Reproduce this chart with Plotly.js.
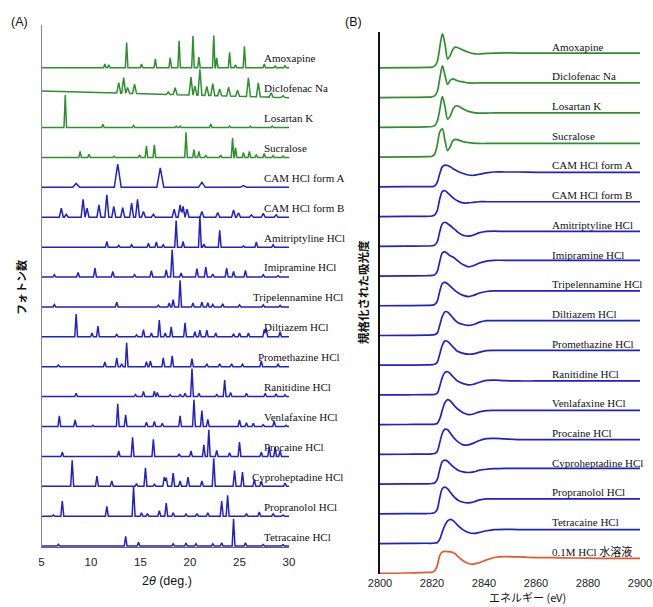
<!DOCTYPE html>
<html><head><meta charset="utf-8">
<script src="https://cdn.plot.ly/plotly-3.0.1.min.js"></script>
<style>html,body{margin:0;padding:0;background:#fff;}#chart{width:653px;height:607px;}</style>
</head><body><div id="chart"></div>
<script>
// ===== Panel A: XRD patterns, peaks as [2theta, relative height]
const xrdNames = ["Amoxapine","Diclofenac Na","Losartan K","Sucralose","CAM HCl form A","CAM HCl form B","Amitriptyline HCl","Imipramine HCl","Tripelennamine HCl","Diltiazem HCl","Promethazine HCl","Ranitidine HCl","Venlafaxine HCl","Procaine HCl","Cyproheptadine HCl","Propranolol HCl","Tetracaine HCl"];
const xrdTicks = [5,10,15,20,25,30];

const pkAmoxapine = [[11.4,0.13],[11.8,0.1],[13.6,0.84],[15.1,0.13],[16.5,0.3],[18.0,0.33],[18.9,0.9],[20.3,1.06],[20.9,0.36],[22.4,1.08],[22.7,0.33],[24.0,0.52],[24.6,0.1],[25.5,0.72],[27.5,0.13],[28.6,0.06],[29.6,0.08]];
const pkDiclofenac = [[12.8,0.35],[13.3,0.52],[13.7,0.2],[14.4,0.31],[17.8,0.08],[18.5,0.23],[20.1,0.6],[20.5,0.3],[21.0,0.87],[21.7,0.3],[22.3,0.4],[23.0,0.23],[23.9,0.3],[24.8,0.2],[25.9,0.63],[26.9,0.47],[28.2,0.15],[29.4,0.06]];
const pkLosartan = [[7.4,1.09],[11.2,0.11],[14.3,0.07],[18.6,0.05],[19.0,0.05],[22.1,0.12],[24.0,0.05],[26.1,0.04],[28.3,0.05]];
const pkSucralose = [[8.9,0.2],[9.8,0.11],[12.3,0.04],[14.9,0.09],[15.6,0.39],[16.4,0.42],[19.6,0.84],[20.4,0.26],[20.9,0.2],[21.6,0.06],[23.1,0.08],[24.3,0.65],[24.6,0.33],[25.4,0.17],[26.0,0.2],[26.7,0.1],[27.5,0.13],[28.4,0.06],[29.4,0.05]];
const pkCamA = [[8.5,0.13],[12.7,0.78],[17.0,0.65],[21.2,0.17],[25.4,0.06]];
const pkCamB = [[7.0,0.3],[7.5,0.1],[9.2,0.6],[9.6,0.3],[10.8,0.41],[11.6,0.75],[12.3,0.36],[13.2,0.32],[14.1,0.47],[14.7,0.6],[15.3,0.19],[16.3,0.1],[18.4,0.27],[19.0,0.41],[19.3,0.36],[19.7,0.27],[21.2,0.19],[22.8,0.16],[24.4,0.24],[24.9,0.15],[26.2,0.08],[27.4,0.13],[28.7,0.08]];
const pkAmitriptyline = [[11.6,0.19],[12.8,0.06],[14.1,0.08],[15.8,0.13],[16.6,0.17],[17.3,0.08],[18.6,0.89],[19.3,0.19],[21.0,1.04],[21.4,0.1],[23.0,0.56],[25.4,0.04],[26.7,0.17],[28.4,0.08]];
const pkImipramine = [[6.3,0.08],[8.7,0.15],[10.4,0.3],[12.2,0.19],[14.4,0.08],[16.1,0.21],[17.6,0.24],[18.2,0.91],[19.1,0.13],[20.7,0.28],[21.6,0.33],[22.3,0.1],[23.7,0.3],[24.4,0.19],[25.6,0.22],[27.4,0.08],[28.9,0.05]];
const pkTripelennamine = [[6.3,0.08],[12.6,0.16],[16.8,0.06],[17.9,0.13],[18.3,0.24],[19.0,0.89],[20.3,0.13],[21.2,0.16],[21.8,0.14],[22.3,0.08],[23.3,0.1],[25.0,0.07],[27.4,0.07],[29.1,0.05]];
const pkDiltiazem = [[8.5,0.76],[10.1,0.13],[10.7,0.36],[12.6,0.09],[14.6,0.06],[15.3,0.24],[16.1,0.13],[16.9,0.56],[17.5,0.13],[18.1,0.33],[19.5,0.47],[20.5,0.17],[21.0,0.22],[21.7,0.22],[22.6,0.13],[24.4,0.1],[25.0,0.13],[25.9,0.13],[27.5,0.25],[27.7,0.28],[29.1,0.17]];
const pkPromethazine = [[6.7,0.06],[11.4,0.16],[12.6,0.3],[13.1,0.1],[13.6,0.8],[15.6,0.17],[16.0,0.19],[17.3,0.3],[18.2,0.36],[20.2,0.27],[21.7,0.1],[23.0,0.1],[24.2,0.1],[25.3,0.08],[27.2,0.19],[28.9,0.08]];
const pkRanitidine = [[8.5,0.11],[14.5,0.07],[15.3,0.17],[16.4,0.18],[16.7,0.14],[18.0,0.06],[19.0,0.07],[19.5,0.11],[20.2,0.94],[20.9,0.11],[22.7,0.07],[23.5,0.55],[24.1,0.14],[25.7,0.11],[27.6,0.11],[28.7,0.09],[29.6,0.06]];
const pkVenlafaxine = [[6.8,0.36],[8.4,0.22],[10.2,0.04],[12.7,0.76],[13.5,0.39],[15.6,0.14],[16.4,0.17],[17.2,0.11],[19.0,0.36],[20.4,0.89],[21.2,0.53],[21.8,0.24],[25.0,0.22],[25.7,0.13],[26.4,0.11],[27.4,0.06],[28.5,0.19],[29.7,0.04]];
const pkProcaine = [[7.1,0.14],[12.8,0.18],[14.2,0.64],[16.3,0.57],[18.9,0.09],[20.1,0.18],[21.4,0.39],[21.9,0.89],[22.7,0.2],[24.0,0.12],[25.0,0.48],[27.2,0.14],[28.0,0.31],[28.6,0.31],[29.1,0.2]];
const pkCyproheptadine = [[8.1,0.87],[10.6,0.34],[12.1,0.18],[14.6,0.09],[15.5,0.62],[16.4,0.07],[17.4,0.31],[17.6,0.29],[18.3,0.44],[19.0,0.18],[19.8,0.31],[21.2,0.18],[22.4,0.94],[24.5,0.53],[25.3,0.48],[26.5,0.23],[27.2,0.17],[29.6,0.11]];
const pkPropranolol = [[6.2,0.04],[7.1,0.51],[11.6,0.33],[14.3,0.98],[15.1,0.11],[15.7,0.09],[16.9,0.18],[17.6,0.44],[18.3,0.11],[19.6,0.07],[20.7,0.09],[21.8,0.11],[23.2,0.51],[23.8,0.7],[25.7,0.09],[27.0,0.14],[28.4,0.09],[29.4,0.04]];
const pkTetracaine = [[6.7,0.06],[13.5,0.33],[14.8,0.13],[18.3,0.08],[19.6,0.1],[20.6,0.08],[22.3,0.08],[23.2,0.11],[24.4,0.91],[25.6,0.11],[27.4,0.05],[29.4,0.05]];
// baseline level at 2θ=5 and 2θ=30 (Diclofenac drifts down)
const xrdBaseStart = [0,0.22,0,0,0,0,0,0,0,0,0,0,0,0,0,0,0];
const xrdBaseEnd   = [0,0,0,0,0,0,0,0,0,0,0,0,0,0,0,0,0];

// ===== Panel B: Cl K-edge XANES
const xanesNames = ["Amoxapine","Diclofenac Na","Losartan K","Sucralose","CAM HCl form A","CAM HCl form B","Amitriptyline HCl","Imipramine HCl","Tripelennamine HCl","Diltiazem HCl","Promethazine HCl","Ranitidine HCl","Venlafaxine HCl","Procaine HCl","Cyproheptadine HCl","Propranolol HCl","Tetracaine HCl","0.1M HCl 水溶液"];
const energyEV = [2800,2810,2818,2820,2821,2822,2823,2824,2825,2826,2827,2828,2829,2830,2832,2834,2836,2838,2841,2844,2848,2853,2860,2870,2880,2890,2900];
const energyTicks = [2800,2820,2840,2860,2880,2900];
const muAmoxapine = [0,0.01,0.02,0.03,0.06,0.2,0.7,1.15,0.8,0.3,0.42,0.62,0.7,0.68,0.6,0.53,0.48,0.47,0.49,0.5,0.51,0.5,0.5,0.5,0.5,0.5,0.5];
const muDiclofenac = [0,0.01,0.02,0.03,0.06,0.2,0.65,1.07,0.75,0.45,0.58,0.63,0.6,0.56,0.53,0.5,0.49,0.5,0.5,0.5,0.5,0.5,0.5,0.5,0.5,0.5,0.5];
const muLosartan = [0,0.01,0.02,0.03,0.06,0.2,0.6,1.04,0.7,0.28,0.38,0.6,0.72,0.72,0.62,0.54,0.5,0.48,0.48,0.49,0.49,0.49,0.49,0.49,0.49,0.49,0.49];
const muSucralose = [0,0.01,0.02,0.03,0.1,0.4,0.85,0.95,0.55,0.22,0.35,0.55,0.6,0.58,0.52,0.49,0.47,0.46,0.46,0.46,0.46,0.46,0.46,0.46,0.46,0.46,0.46];
const muCamA = [0,0.005,0.01,0.01,0.03,0.15,0.45,0.68,0.73,0.72,0.68,0.62,0.57,0.52,0.45,0.4,0.39,0.42,0.47,0.5,0.5,0.5,0.49,0.49,0.49,0.49,0.49];
const muCamB = [0,0.005,0.01,0.02,0.05,0.2,0.6,0.85,0.87,0.8,0.72,0.64,0.57,0.52,0.46,0.46,0.48,0.5,0.5,0.5,0.5,0.5,0.5,0.5,0.5,0.5,0.5];
const muAmitriptyline = [0,0.005,0.01,0.02,0.04,0.15,0.5,0.76,0.81,0.76,0.7,0.62,0.55,0.47,0.37,0.34,0.38,0.45,0.5,0.51,0.5,0.5,0.5,0.5,0.5,0.5,0.5];
const muImipramine = [0,0.005,0.01,0.02,0.04,0.15,0.5,0.78,0.81,0.75,0.68,0.64,0.58,0.5,0.38,0.31,0.35,0.43,0.5,0.53,0.53,0.53,0.53,0.53,0.53,0.53,0.53];
const muTripelennamine = [0,0.005,0.01,0.02,0.04,0.15,0.5,0.75,0.79,0.74,0.66,0.58,0.5,0.44,0.35,0.31,0.35,0.42,0.48,0.5,0.5,0.5,0.5,0.5,0.5,0.5,0.5];
const muDiltiazem = [0,0.005,0.01,0.02,0.03,0.08,0.35,0.65,0.8,0.79,0.7,0.6,0.5,0.43,0.37,0.34,0.37,0.44,0.5,0.5,0.5,0.5,0.5,0.5,0.5,0.5,0.5];
const muPromethazine = [0,0.005,0.01,0.02,0.03,0.1,0.38,0.68,0.82,0.8,0.72,0.62,0.53,0.46,0.4,0.37,0.38,0.43,0.49,0.5,0.5,0.5,0.5,0.5,0.5,0.5,0.5];
const muRanitidine = [0,0.005,0.01,0.01,0.02,0.05,0.3,0.6,0.76,0.78,0.72,0.62,0.53,0.46,0.38,0.34,0.36,0.42,0.49,0.5,0.48,0.47,0.47,0.47,0.47,0.47,0.47];
const muVenlafaxine = [0,0.005,0.01,0.01,0.02,0.04,0.2,0.5,0.75,0.84,0.8,0.7,0.6,0.52,0.4,0.34,0.36,0.42,0.47,0.48,0.48,0.48,0.48,0.48,0.48,0.48,0.48];
const muProcaine = [0,0.005,0.01,0.02,0.03,0.1,0.4,0.72,0.85,0.83,0.72,0.6,0.5,0.42,0.32,0.32,0.38,0.46,0.53,0.54,0.52,0.5,0.5,0.5,0.5,0.5,0.5];
const muCyproheptadine = [0,0.005,0.01,0.02,0.04,0.15,0.5,0.76,0.81,0.77,0.68,0.6,0.53,0.47,0.41,0.39,0.41,0.46,0.5,0.52,0.53,0.53,0.53,0.53,0.53,0.53,0.53];
const muPropranolol = [0,0.005,0.01,0.02,0.04,0.15,0.55,0.85,0.9,0.84,0.73,0.62,0.53,0.46,0.39,0.37,0.4,0.46,0.5,0.5,0.5,0.5,0.5,0.5,0.5,0.5,0.5];
const muTetracaine = [0,0.005,0.01,0.01,0.02,0.03,0.15,0.4,0.62,0.76,0.81,0.78,0.7,0.6,0.46,0.37,0.34,0.37,0.43,0.47,0.48,0.47,0.47,0.47,0.47,0.47,0.47];
const muHClaq = [0,0.01,0.03,0.04,0.08,0.25,0.6,0.72,0.74,0.73,0.72,0.7,0.65,0.56,0.42,0.33,0.31,0.35,0.45,0.53,0.56,0.55,0.53,0.52,0.51,0.5,0.5];

// ===== drawing
const GREEN = '#2f8f2f', BLUE = '#2121c4', ORANGE = '#e8582a';
const W = 653, H = 607;
const px = v => v / W, py = v => 1 - v / H;

const xrdSets = [pkAmoxapine,pkDiclofenac,pkLosartan,pkSucralose,pkCamA,pkCamB,pkAmitriptyline,pkImipramine,pkTripelennamine,pkDiltiazem,pkPromethazine,pkRanitidine,pkVenlafaxine,pkProcaine,pkCyproheptadine,pkPropranolol,pkTetracaine];
const xrdHalfWidth = [0.13,0.2,0.13,0.13,0.35,0.2,0.14,0.15,0.14,0.14,0.14,0.14,0.14,0.14,0.15,0.15,0.14];
const xanesSets = [muAmoxapine,muDiclofenac,muLosartan,muSucralose,muCamA,muCamB,muAmitriptyline,muImipramine,muTripelennamine,muDiltiazem,muPromethazine,muRanitidine,muVenlafaxine,muProcaine,muCyproheptadine,muPropranolol,muTetracaine,muHClaq];

function spikeLine(peaks, hw, b0, b1, off) {
  const s = new Set([5, 30]);
  peaks.forEach(([p]) => { s.add(+(p - hw).toFixed(3)); s.add(p); s.add(+(p + hw).toFixed(3)); });
  const xs = [...s].filter(x => x >= 5 && x <= 30).sort((a, b) => a - b);
  const ys = xs.map(x => {
    let m = 0;
    peaks.forEach(([p, h]) => { const t = h * (1 - Math.abs(x - p) / hw); if (t > m) m = t; });
    return off + b0 + (b1 - b0) * (x - 5) / 25 + m;
  });
  return {xs, ys};
}

const traces = [];
const ann = [];
const nA = xrdNames.length;
const labelXA = {"Tripelennamine HCl":26.2,"Promethazine HCl":26.7,"Cyproheptadine HCl":26.05};
xrdSets.forEach((pk, i) => {
  const off = nA - 1 - i;
  const {xs, ys} = spikeLine(pk, xrdHalfWidth[i], xrdBaseStart[i], xrdBaseEnd[i], off);
  traces.push({x: xs, y: ys, xaxis: 'x', yaxis: 'y', type: 'scatter', mode: 'lines',
    line: {color: i < 4 ? GREEN : BLUE, width: 1.5}, hoverinfo: 'skip'});
  ann.push({xref: 'x', yref: 'y', x: labelXA[xrdNames[i]] || 27.25, y: off + 0.32, xanchor: 'left', yanchor: 'middle',
    text: xrdNames[i], showarrow: false, font: {family: 'Liberation Serif', size: 11, color: '#111'}});
});
const nB = xanesNames.length;
xanesSets.forEach((mu, i) => {
  const off = nB - 1 - i;
  traces.push({x: energyEV, y: mu.map(v => v + off), xaxis: 'x2', yaxis: 'y2', type: 'scatter', mode: 'lines',
    line: {color: i < 4 ? GREEN : (i === nB - 1 ? ORANGE : BLUE), width: 1.7, shape: 'spline', smoothing: 0.9}, hoverinfo: 'skip'});
  ann.push({xref: 'x2', yref: 'y2', x: 2865.4, y: off + 0.72, xanchor: 'left', yanchor: 'middle',
    text: xanesNames[i], showarrow: false,
    font: {family: 'Liberation Serif, Noto Sans CJK JP', size: 11, color: '#111'}});
});

function paperText(text, x, y, font, extra) {
  ann.push(Object.assign({xref: 'paper', yref: 'paper', x: px(x), y: py(y), xanchor: 'center', yanchor: 'middle',
    text, showarrow: false, font}, extra || {}));
}
paperText('(A)', 19, 22, {family: 'Liberation Sans', size: 12.5, color: '#111'});
paperText('(B)', 353, 22, {family: 'Liberation Sans', size: 12.5, color: '#111'});
paperText('2<i>θ</i> (deg.)', 167, 581, {family: 'Liberation Sans', size: 12.5, color: '#111'});
paperText('エネルギー (eV)', 527, 606.5, {family: 'Noto Sans CJK JP', size: 11, color: '#111'}, {yanchor: 'bottom'});
paperText('フォトン数', 21, 288, {family: 'Noto Sans CJK JP', size: 11, color: '#111', weight: 'bold'}, {textangle: -90});
paperText('規格化された吸光度', 363, 292, {family: 'Noto Sans CJK JP', size: 11.5, color: '#111', weight: 'bold'}, {textangle: -90});

const tickFont = {family: 'Liberation Sans', size: 11.5, color: '#222'};
const layout = {
  width: W, height: H, margin: {l: 0, r: 0, t: 0, b: 0},
  paper_bgcolor: '#fff', plot_bgcolor: 'rgba(0,0,0,0)', showlegend: false,
  xaxis: {domain: [px(41.5), px(289)], range: [5, 30], anchor: 'y', tickvals: xrdTicks,
    showline: true, linecolor: '#666', linewidth: 1, ticks: '', showgrid: false, zeroline: false,
    tickfont: tickFont, ticklabelstandoff: 4},
  yaxis: {domain: [py(547), py(25)], range: [-0.03, 17.43], anchor: 'x', showline: true, linecolor: '#888',
    linewidth: 1, showticklabels: false, ticks: '', showgrid: false, zeroline: false},
  xaxis2: {domain: [px(380), px(640)], range: [2800, 2900], anchor: 'y2', tickvals: energyTicks,
    showline: false, ticks: '', showgrid: false, zeroline: false,
    tickfont: {family: 'Liberation Sans', size: 11, color: '#222'}, ticklabelstandoff: 1},
  yaxis2: {domain: [py(574), py(32)], range: [-0.024, 18.21], anchor: 'x2', showline: true, linecolor: '#111',
    linewidth: 2, showticklabels: false, ticks: '', showgrid: false, zeroline: false},
  annotations: ann
};
Plotly.newPlot('chart', traces, layout, {staticPlot: true, displayModeBar: false});
</script></body></html>
